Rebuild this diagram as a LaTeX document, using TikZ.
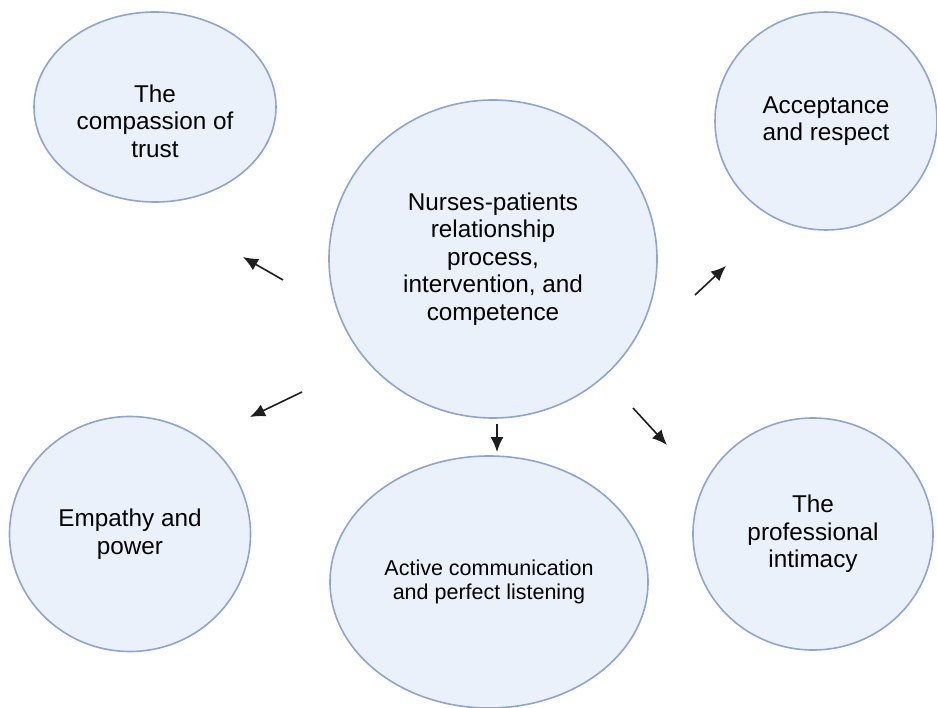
\documentclass[tikz,border=0pt]{standalone}
\usepackage{fontspec}
\setmainfont{Liberation Sans}
\usetikzlibrary{shapes.geometric}
\usetikzlibrary{arrows.meta}
\definecolor{lblue}{RGB}{234,241,251}
\definecolor{eblue}{RGB}{143,165,207}
\definecolor{adark}{RGB}{30,30,30}

\tikzset{
  bubble/.style={ellipse, draw=eblue, fill=lblue, line width=1.6pt, inner sep=0pt,
    align=center, font=\fontsize{24.3}{27.5}\selectfont},
  bubbletext/.style={align=center, inner sep=0pt, font=\fontsize{24.3}{27.5}\selectfont},
  arr/.style={-{Latex[length=15pt,width=13pt]}, line width=1.6pt, draw=adark},
}

\begin{document}
\begin{tikzpicture}[x=1pt, y=-1pt]
    \fill [white] (0, 0) rectangle (937, 708);
    \useasboundingbox (0, 0) rectangle (937, 708);

    % the six bubbles
    \node [bubble, minimum width=242, minimum height=190] (trust) at (155, 107) {};
    \node [bubbletext] (trusttext) at ([yshift=-14pt]trust.center) {The\\compassion of\\trust};
    \node [bubble, minimum width=222, minimum height=218] (accept) at (826, 121) {Acceptance\\and respect};
    \node [bubble, minimum width=328, minimum height=318] (hub) at (493, 259) {Nurses-patients\\relationship\\process,\\intervention, and\\competence};
    \node [bubble, minimum width=241, minimum height=235] (empathy) at (130, 534) {Empathy and\\power};
    \node [bubble, minimum width=318, minimum height=252, font=\fontsize{21.5}{23.5}\selectfont] (listen) at (489, 582) {Active communication\\and perfect listening};
    \node [bubble, minimum width=240, minimum height=232] (intimacy) at (813, 534) {The\\professional\\intimacy};

    % short arrows in the gaps
    \coordinate (toTrustA) at (283, 280);
    \coordinate (toTrustB) at (243, 257);
    \coordinate (toAcceptA) at (695, 295);
    \coordinate (toAcceptB) at (726, 266);
    \coordinate (toEmpathyA) at (302, 392);
    \coordinate (toEmpathyB) at (250, 417);
    \coordinate (toListenA) at (497, 424);
    \coordinate (toListenB) at (497, 452);
    \coordinate (toIntimacyA) at (633, 408);
    \coordinate (toIntimacyB) at (667, 445);

    \draw [arr] (toTrustA) -- (toTrustB);
    \draw [arr] (toAcceptA) -- (toAcceptB);
    \draw [arr] (toEmpathyA) -- (toEmpathyB);
    \draw [arr] (toListenA) -- (toListenB);
    \draw [arr] (toIntimacyA) -- (toIntimacyB);
\end{tikzpicture}
\end{document}
